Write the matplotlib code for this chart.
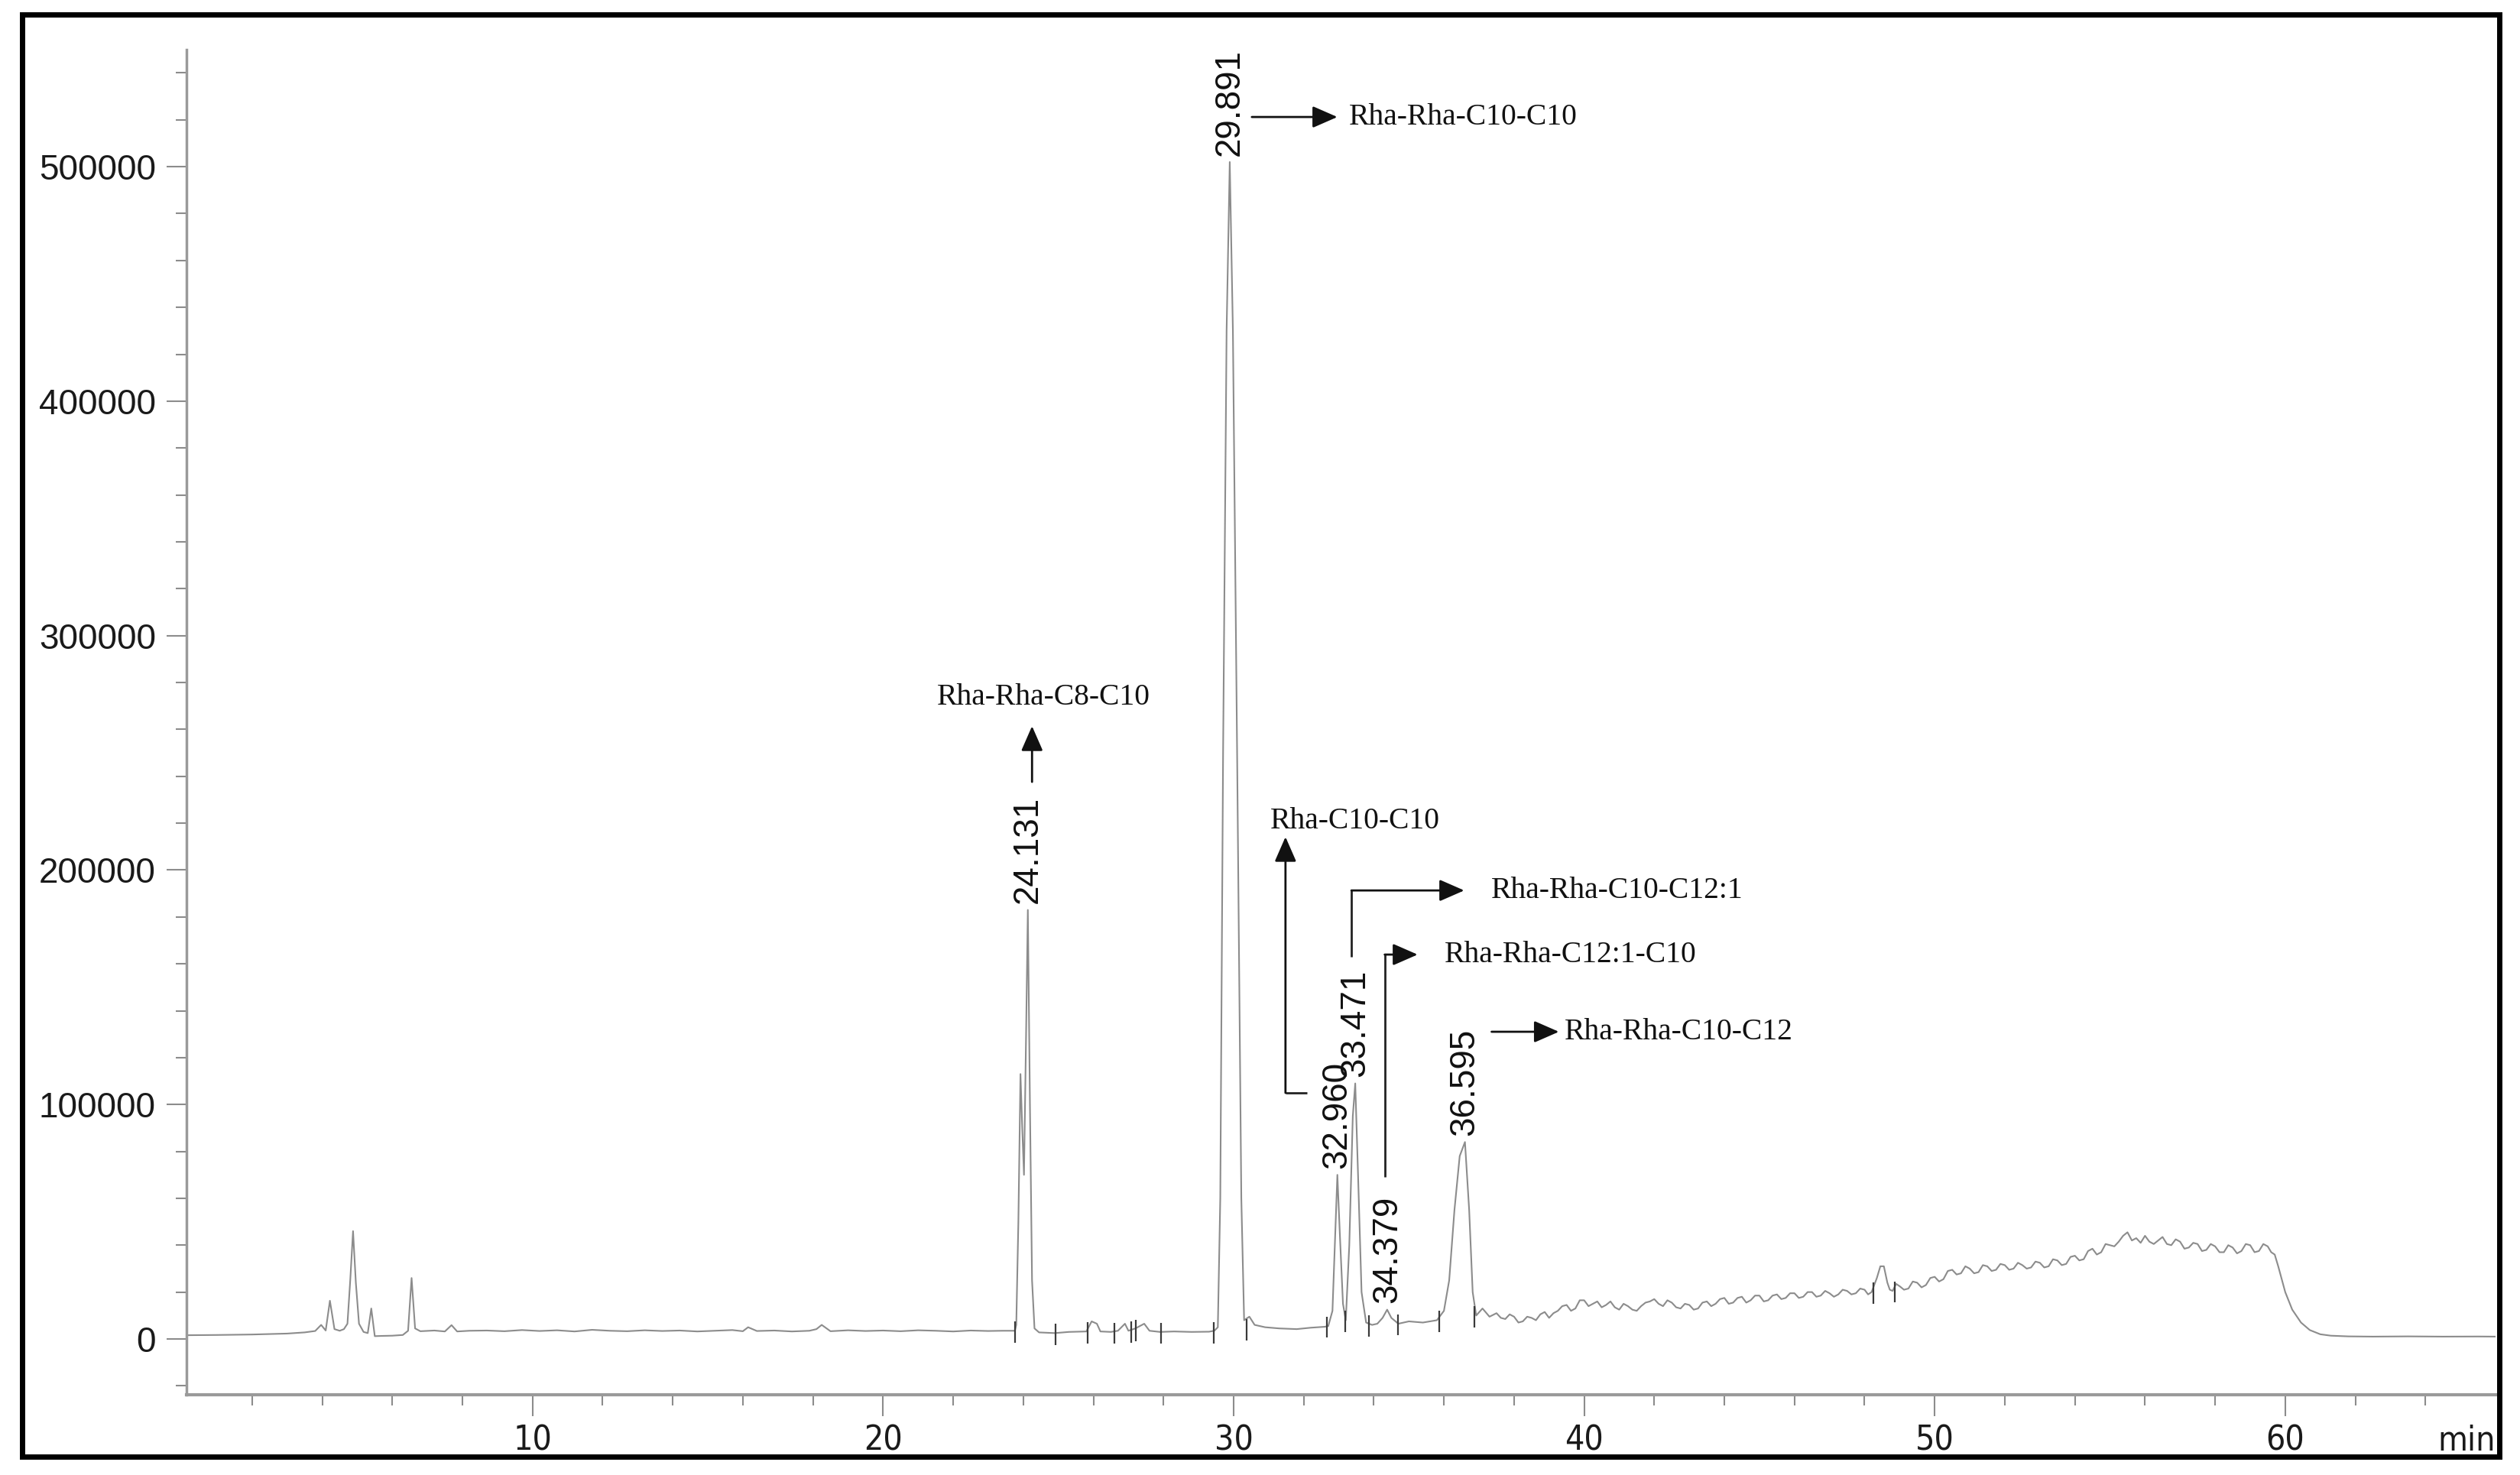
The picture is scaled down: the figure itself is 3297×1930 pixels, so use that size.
import matplotlib
matplotlib.use('Agg')
import matplotlib.pyplot as plt
import numpy as np
from matplotlib import font_manager
from matplotlib.patches import Rectangle
from matplotlib.ticker import FixedLocator

#--chromatogram trace (time in min, signal)
#--part a: solvent peaks at the start
t_a=[0.15,1.0,2.0,3.0,3.5,3.8,3.97,4.1,4.22,4.35,4.5,4.62,4.72,4.80,4.88,4.96,5.05,5.18,5.30,5.40,
     5.50,5.7,6.0,6.3,6.45,6.55,6.65,6.8,7.2,7.5,7.69,7.85,8.2]
v_a=[1600,1700,1900,2300,2800,3400,6000,3600,16300,4200,3500,4200,6500,25000,46000,24000,6500,3000,2500,13000,
     1200,1300,1400,1700,3500,26000,4500,3300,3600,3200,5900,3200,3500]
#--part b: flat baseline
t_b=[8.7,9.2,9.7,10.2,10.7,11.2,11.7,12.2,12.7,13.2,13.7,14.2,14.7,15.2,15.7,16.0,16.15,16.4,16.9,17.4,
     17.9,18.1,18.25,18.5,19.0,19.5,20.0,20.5,21.0,21.5,22.0,22.5,23.0,23.4]
v_b=[3600,3300,3800,3400,3700,3200,3900,3500,3300,3700,3400,3600,3200,3500,3800,3300,5000,3400,3600,3200,
     3500,4200,6000,3300,3700,3400,3600,3300,3700,3500,3200,3600,3400,3500]
#--part c: 24.131 and 29.891 peaks
t_c=[23.76,23.80,23.86,23.92,23.97,24.02,24.08,24.13,24.19,24.25,24.32,24.45,24.9,25.3,25.8,25.95,26.1,26.2,26.5,26.7,
     26.9,27.0,27.2,27.45,27.6,27.9,28.3,28.8,29.3,29.45,29.55,29.62,29.70,29.80,29.89,29.98,30.10,30.22,30.30,30.45,
     30.6,30.9,31.3,31.8,32.2,32.6]
v_c=[3500,6000,50000,113000,90000,70000,130000,183000,100000,25000,4500,2800,2500,3000,3200,7500,6500,3200,3000,3500,
     6500,3500,4500,6500,3500,3000,3200,3000,3100,3500,5000,60000,250000,430000,502000,430000,250000,60000,8000,9500,
     6000,5000,4500,4200,4800,5200]
#--part d: 32.960 to 36.595 peaks
t_d=[32.7,32.82,32.9,32.96,33.03,33.12,33.2,33.3,33.4,33.47,33.55,33.65,33.78,33.95,34.1,34.25,34.38,34.5,34.7,35.0,
     35.4,35.8,36.0,36.15,36.3,36.45,36.6,36.72,36.82,36.92,37.1,37.3]
v_d=[5500,12000,45000,70000,45000,15000,8000,40000,95000,109000,70000,20000,7000,6000,6500,9000,12500,9000,6500,7500,
     7000,8000,12000,25000,55000,78000,84000,55000,20000,10000,13000,9500]
#--part e: rising noisy baseline then drop
t_e=[37.5,37.625,37.75,37.875,38.0,38.125,38.25,38.375,38.5,38.625,38.75,38.875,39.0,39.125,39.25,39.375,39.5,39.625,39.75,39.875,
     40.0,40.125,40.25,40.375,40.5,40.625,40.75,40.875,41.0,41.125,41.25,41.375,41.5,41.625,41.75,41.875,42.0,42.125,42.25,42.375,
     42.5,42.625,42.75,42.875,43.0,43.125,43.25,43.375,43.5,43.625,43.75,43.875,44.0,44.125,44.25,44.375,44.5,44.625,44.75,44.875,
     45.0,45.125,45.25,45.375,45.5,45.625,45.75,45.875,46.0,46.125,46.25,46.375,46.5,46.625,46.75,46.875,47.0,47.125,47.25,47.375,
     47.5,47.625,47.75,47.875,48.0,48.1,48.2,48.35,48.45,48.55,48.65,48.72,48.8,48.9,49.0,49.125,49.25,49.375,49.5,49.625,
     49.75,49.875,50.0,50.125,50.25,50.375,50.5,50.625,50.75,50.875,51.0,51.125,51.25,51.375,51.5,51.625,51.75,51.875,52.0,52.125,
     52.25,52.375,52.5,52.625,52.75,52.875,53.0,53.125,53.25,53.375,53.5,53.625,53.75,53.875,54.0,54.125,54.25,54.375,54.5,54.625,
     54.75,54.875,55.0,55.125,55.25,55.375,55.5,55.625,55.75,55.875,56.0,56.125,56.25,56.375,56.5,56.625,56.75,56.875,57.0,57.125,
     57.25,57.375,57.5,57.625,57.75,57.875,58.0,58.125,58.25,58.375,58.5,58.625,58.75,58.875,59.0,59.125,59.25,59.375,59.5,59.6,
     59.7,59.8,60.0,60.2,60.45,60.7,61.0,61.3,61.8,62.5,63.5,64.5,65.5,66.0]
v_e=[11000,9000,8500,10500,9500,7000,7500,9500,9000,8000,10500,11500,9000,11000,12000,14000,14500,12000,13000,16500,
     16500,14000,15000,16000,13500,14500,16000,13500,12500,15000,14000,12500,12000,14000,15500,16000,17000,15000,14000,16500,
     15500,13500,13000,15000,14500,12500,13000,15500,16000,14000,15000,17000,17500,15000,15500,17500,18000,15500,16500,18500,
     18500,16000,16500,18500,19000,17000,17500,19500,19500,17500,18000,20000,20000,18000,18500,20500,19500,18000,19000,21000,
     20500,19000,19500,21500,21000,19000,20000,26000,31000,31000,24000,21000,20500,23500,22500,21000,21500,24500,24000,22000,
     23000,26000,26500,24500,25500,29000,29500,27500,28000,31000,30000,28000,28500,31500,31000,29000,29500,32000,31500,29500,
     30000,32500,31500,30000,30500,33000,32500,30500,31000,34000,33500,31500,32000,35000,35500,33500,34000,37500,38500,36000,
     37000,40500,40000,39500,41500,44000,45500,42000,43000,41000,44000,41500,40500,42000,43500,40500,40000,42500,41500,38500,
     39000,41000,40500,37500,38000,40500,39500,37000,37000,40000,39000,36500,37500,40500,40000,37000,37500,40500,39500,37000,
     36000,31000,20000,12500,7000,3800,2000,1400,1100,1000,1100,1000,1050,1000]

#--integration marks (time, baseline level)
mark_t=[23.76,24.92,25.83,26.59,27.07,27.20,27.94,29.43,30.37,32.65,33.19,33.87,34.69,35.87,36.87,48.25,48.86]
mark_v=[3500,2500,3200,3000,3500,4000,3000,3200,4500,5500,8000,6000,6500,8000,10000,20000,20500]

#--retention time labels
peak_t=[24.131,29.891,32.960,33.471,34.379,36.595]
peak_h=[183000,502000,70000,109000,12500,84000]
peak_lab=['24.131','29.891','32.960','33.471','34.379','36.595']

#--compound names
comp_names=['Rha-Rha-C10-C10','Rha-Rha-C8-C10','Rha-C10-C10','Rha-Rha-C10-C12:1','Rha-Rha-C12:1-C10','Rha-Rha-C10-C12']

#--axis ticks
xticks=[10,20,30,40,50,60]
yticks=[0,100000,200000,300000,400000,500000]

#--fonts: narrow sans for the time axis if there is one
fl=font_manager.fontManager.ttflist
sans='Liberation Sans'
serif='Liberation Serif'
if any(f.name=='Liberation Sans Narrow' for f in fl):
  xfont=dict(family='Liberation Sans Narrow',fontsize=36)
elif any(f.name=='DejaVu Sans' and f.stretch=='condensed' for f in fl):
  xfont=dict(family='DejaVu Sans',stretch='condensed',fontsize=32)
else:
  xfont=dict(family=sans,fontsize=34)

t=np.concatenate([t_a,t_b,t_c,t_d,t_e])
v=np.concatenate([v_a,v_b,v_c,v_d,v_e])

fig=plt.figure(figsize=(32.98,19.30),dpi=100)
ax=fig.add_axes([0.0740,0.0544,0.9160,0.9119])

ax.plot(t,v,color='#8c8c8c',lw=1.5,zorder=2)
ax.vlines(mark_t,np.array(mark_v)-5000,np.array(mark_v)+4000,color='#3a3a3a',lw=1.6,zorder=3)

for pt,ph,pl in zip(peak_t,peak_h,peak_lab):
  ax.annotate(pl,xy=(pt,ph),xytext=(0,6),textcoords='offset points',rotation=90,
              ha='center',va='bottom',fontsize=33,family=sans,color='#111111')

#--arrows: path in data coords, label anchor
arrows=[
  ([(30.52,521200),(32.96,521200)],(33.29,521200),'left'),
  ([(24.25,237600),(24.25,261400)],(24.58,273500),'center'),
  ([(32.09,104950),(31.48,104950),(31.48,214150)],(31.05,221000),'left'),
  ([(33.36,163000),(33.36,191300),(36.58,191300)],(37.34,191300),'left'),
  ([(34.31,69100),(34.31,163950),(35.25,163950)],(36.01,163950),'left'),
  ([(37.36,131030),(39.28,131030)],(39.43,131030),'left'),
]
for name,(path,anchor,ha) in zip(comp_names,arrows):
  xs=[p[0] for p in path] ; ys=[p[1] for p in path]
  if len(path)>2:
    ax.plot(xs[:-1],ys[:-1],color='#222222',lw=2,solid_capstyle='butt',zorder=4)
  ax.annotate('',xy=path[-1],xytext=path[-2],
              arrowprops=dict(arrowstyle='-|>,head_length=0.8,head_width=0.35',mutation_scale=25,
                              lw=2,color='#111111',shrinkA=0,shrinkB=0),zorder=4)
  ax.text(anchor[0],anchor[1],name,ha=ha,va='center',fontsize=28.5,family=serif,color='#111111')

#--axes look
ax.set_xlim(0.13,66.0)
ax.set_ylim(-23800,549900)
for s in ['top','right']:
  ax.spines[s].set_visible(False)
ax.spines['left'].set_color('#9a9a9a') ; ax.spines['left'].set_linewidth(2.5)
ax.spines['bottom'].set_color('#9a9a9a') ; ax.spines['bottom'].set_linewidth(3)
ax.xaxis.set_major_locator(FixedLocator(xticks))
ax.xaxis.set_minor_locator(FixedLocator(np.arange(2,66,2)))
ax.yaxis.set_major_locator(FixedLocator(yticks))
ax.yaxis.set_minor_locator(FixedLocator(np.arange(-20000,550000,20000)))
ax.set_xticklabels([str(x) for x in xticks],color='#1a1a1a',**xfont)
ax.set_yticklabels([str(y) for y in yticks],fontsize=33,family=sans,color='#1a1a1a')
ax.tick_params(axis='x',which='major',length=20,width=1.5,color='#8c8c8c',pad=8)
ax.tick_params(axis='x',which='minor',length=10,width=1.5,color='#8c8c8c')
ax.tick_params(axis='y',which='major',length=19,width=1.5,color='#8c8c8c',pad=10)
ax.tick_params(axis='y',which='minor',length=10,width=1.5,color='#8c8c8c')
ax.annotate('min',xy=(1.0,0.0),xycoords='axes fraction',xytext=(0,-28),textcoords='offset points',
            ha='right',va='top',color='#1a1a1a',**xfont)

#--outer frame
fig.add_artist(Rectangle((0.00894,0.01218),0.98257,0.97823,transform=fig.transFigure,
                         fill=False,lw=5,ec='black',zorder=10))

plt.savefig('out.png',dpi=100)
